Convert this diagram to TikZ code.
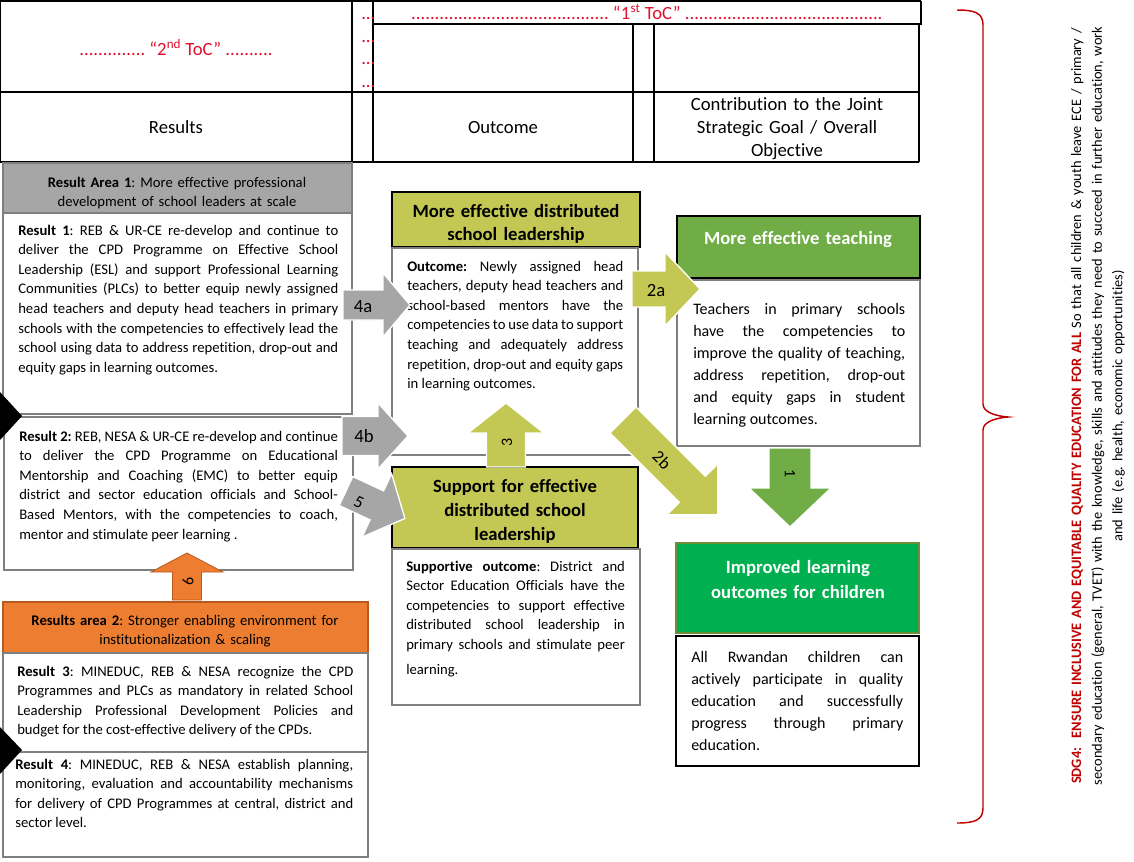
\documentclass[tikz,border=0pt]{standalone}
\usepackage{fontspec}
\setmainfont{Carlito}[Ligatures={TeX,NoCommon}]
\frenchspacing
\tolerance=9999
\emergencystretch=2em
\hyphenpenalty=10000
\definecolor{tocred}{HTML}{E0102A}
\definecolor{sdgred}{HTML}{C00000}
\definecolor{hdrgray}{HTML}{A6A6A6}
\definecolor{bordgray}{HTML}{7F7F7F}
\definecolor{orangeA}{HTML}{ED7D31}
\definecolor{orangeB}{HTML}{B85A1E}
\definecolor{olive}{HTML}{C3C753}
\definecolor{greenT}{HTML}{70AD47}
\definecolor{greenL}{HTML}{00B050}
\definecolor{greenB}{HTML}{6E8E3C}
\newcommand{\fs}[2]{\fontsize{#1}{#2}\selectfont}
% block arrow: #1 name, #2 style, #3 tail, #4 angle, #5 shaft len, #6 shaft half width, #7 head len, #8 head half width
\newcommand{\blkarrow}[8]{%
  \begin{scope}[shift={#3},rotate=#4]
    \path[#2] (0,-#6) -- (#5,-#6) -- (#5,-#8) -- ({#5+#7},0) -- (#5,#8) -- (#5,#6) -- (0,#6) -- cycle;
    \coordinate (#1) at ({#5+#7},0);
  \end{scope}}
\tikzset{
  tbl/.style={draw=black,line width=1.1pt},
  wbox/.style={draw=bordgray,line width=1.5pt,fill=white},
  bbox/.style={draw=black,line width=1.5pt,fill=white},
  grayhdr/.style={draw=bordgray,line width=1.5pt,fill=hdrgray},
  orghdr/.style={draw=orangeB,line width=1.5pt,fill=orangeA},
  olvhdr/.style={draw=black,line width=1.5pt,fill=olive},
  tchhdr/.style={draw=black,line width=1.5pt,fill=greenT},
  lrnhdr/.style={draw=greenB,line width=1.5pt,fill=greenL},
  body/.style={anchor=base west,inner sep=0pt,align=justify,font=\fs{11}{14.7}},
  bodyL/.style={anchor=base west,inner sep=0pt,align=justify,font=\fs{12}{16.6}},
  hdr/.style={anchor=base,inner sep=0pt,align=center},
  grayarr/.style={fill=hdrgray,draw=white,line width=1pt},
  olvarr/.style={fill=olive,draw=white,line width=1pt},
  grnarr/.style={fill=greenT,draw=white,line width=1pt},
  orgarr/.style={fill=orangeA,draw=orangeB,line width=0.6pt},
  arrlbl/.style={inner sep=0pt},
  brace/.style={draw=sdgred,line width=1.1pt},
}
\begin{document}
\begin{tikzpicture}[x=0.75pt,y=-0.75pt]
\useasboundingbox[fill=white] (0,0) rectangle (1134,861);
% ---------- top table ----------
\draw[tbl] (0,1) -- (921,1);
\draw[tbl] (373,24) -- (921,24) -- (921,1);
\draw[tbl] (0,92) -- (919,92);
\draw[tbl] (0,162) -- (919,162);
\draw[tbl] (0,1) -- (0,162);
\draw[tbl] (352,1) -- (352,163);
\draw[tbl] (373,1) -- (373,163);
\draw[tbl] (633,24) -- (633,162);
\draw[tbl] (654,24) -- (654,162);
\draw[tbl] (919,24) -- (919,162);
\node[hdr,font=\fs{14}{17}] (toc2) at (176,55) {\color{tocred}.............. “2\textsuperscript{nd} ToC” ..........};
\node[hdr,font=\fs{14}{17}] (toc1) at (647,19) {\color{tocred}.......................................... “1\textsuperscript{st} ToC” ..........................................};
\foreach \yy/\nm in {19/d1,42/d2,64/d3,87/d4}{
  \node[anchor=base west,inner sep=0pt,font=\fs{14}{17}] (\nm) at (361,\yy) {\color{tocred}...};
}
\node[hdr,font=\fs{14}{17}] (hres) at (176,133) {Results};
\node[hdr,font=\fs{14}{17}] (hout) at (503,133) {Outcome};
\node[hdr,font=\fs{14}{17.25},text width=200pt] (hcon) at (787,110) {Contribution to the Joint\\Strategic Goal / Overall\\Objective};
% ---------- left column ----------
\path[grayhdr] (3,163) rectangle (352,213);
\path[wbox] (3,213) rectangle (352,414);
\path[wbox] (4,417) rectangle (353,570);
\path[orghdr] (3,602) rectangle (368,653);
\path[wbox] (3,653) rectangle (368,752);
\path[wbox] (3,752) rectangle (368,857);
\node[hdr,font=\fs{11}{14.25},text width=260pt] (ra1) at (177,187) {\textbf{Result Area 1}: More effective professional\\development of school leaders at scale};
\node[body,text width=240pt] (r1) at (18,235) {\textbf{Result 1}: REB \& UR-CE re-develop and continue to\linebreak deliver the CPD Programme on Effective School\linebreak Leadership (ESL) and support Professional Learning\linebreak Communities (PLCs) to better equip newly assigned\linebreak head teachers and deputy head teachers in primary\linebreak schools with the competencies to effectively lead the\linebreak school using data to address repetition, drop-out and\linebreak equity gaps in learning outcomes.};
\node[body,text width=239pt] (r2) at (19,441) {\textbf{Result 2:} REB, NESA \& UR-CE re-develop and continue\linebreak to deliver the CPD Programme on Educational\linebreak Mentorship and Coaching (EMC) to better equip\linebreak district and sector education officials and School-\linebreak Based Mentors, with the competencies to coach,\linebreak mentor and stimulate peer learning .};
\node[hdr,font=\fs{11}{14.25},text width=270pt] (ra2) at (185,625) {\textbf{Results area 2}: Stronger enabling environment for\\institutionalization \& scaling};
\node[body,text width=252pt] (r3) at (17,676) {\textbf{Result 3}: MINEDUC, REB \& NESA recognize the CPD\linebreak Programmes and PLCs as mandatory in related School\linebreak Leadership Professional Development Policies and\linebreak budget for the cost-effective delivery of the CPDs.};
\node[body,text width=253.5pt] (r4) at (15,769) {\textbf{Result 4}: MINEDUC, REB \& NESA establish planning,\linebreak monitoring, evaluation and accountability mechanisms\linebreak for delivery of CPD Programmes at central, district and\linebreak sector level.};
\fill[black] (0,392) -- (22,416) -- (0,440) -- cycle;
\fill[black] (0,727) -- (22,750) -- (0,774) -- cycle;
% ---------- middle column ----------
\path[olvhdr] (392,192) rectangle (640,247);
\path[wbox] (392,248) rectangle (638,455);
\path[olvhdr] (392,467) rectangle (638,548);
\path[wbox] (392,549) rectangle (640,705);
\node[hdr,font=\bfseries\fs{14}{17.25},text width=180pt] (h1) at (516,217) {More effective distributed\\school leadership};
\node[body,text width=162pt] (oc) at (407,271) {\textbf{Outcome:} Newly assigned head\linebreak teachers, deputy head teachers and\linebreak school-based mentors have the\linebreak competencies to use data to support\linebreak teaching and adequately address\linebreak repetition, drop-out and equity gaps\linebreak in learning outcomes.};
\node[hdr,font=\bfseries\fs{14}{18},text width=180pt] (h2) at (515,492) {Support for effective\\distributed school\\leadership};
\node[body,text width=164pt] (so) at (406,571) {\textbf{Supportive outcome}: District and\linebreak Sector Education Officials have the\linebreak competencies to support effective\linebreak distributed school leadership in\linebreak primary schools and stimulate peer\vspace{4pt}\linebreak learning.};
% ---------- right column ----------
\path[tchhdr] (677,216) rectangle (920,278);
\path[wbox] (677,280) rectangle (920,446);
\path[lrnhdr] (676,543) rectangle (919,633);
\path[bbox] (676,636) rectangle (919,766);
\node[hdr,font=\bfseries\fs{14}{17.25},text width=180pt,text=white] (h3) at (798,244) {More effective teaching};
\node[bodyL,text width=159pt] (te) at (693,314) {Teachers in primary schools\linebreak have the competencies to\linebreak improve the quality of teaching,\linebreak address repetition, drop-out\linebreak and equity gaps in student\linebreak learning outcomes.};
\node[hdr,font=\bfseries\fs{14}{18.75},text width=180pt,text=white] (h4) at (798,573) {Improved learning\\outcomes for children};
\node[bodyL,text width=159pt] (rw) at (691,662) {All Rwandan children can\linebreak actively participate in quality\linebreak education and successfully\linebreak progress through primary\linebreak education.};
% ---------- block arrows ----------
\blkarrow{a4a}{grayarr}{(343,305)}{0}{40}{15}{27}{32}
\blkarrow{a4b}{grayarr}{(342,436)}{0}{36}{19.5}{30}{33}
\blkarrow{a5}{grayarr}{(346,491)}{-25}{34}{16}{31}{35}
\blkarrow{a2a}{olvarr}{(632,289)}{0}{33}{18}{35}{37}
\blkarrow{a2b}{olvarr}{(623,420)}{-45}{98}{18.5}{36}{36}
\blkarrow{a3}{olvarr}{(506,467)}{90}{34}{19.5}{30}{38}
\blkarrow{a1}{grnarr}{(790,448)}{-90}{40}{21}{39}{41}
\blkarrow{a6}{orgarr}{(187,600)}{90}{28}{14.5}{19}{36}
\node[arrlbl,font=\fs{14}{16}] (l4a) at (363,307) {4a};
\node[arrlbl,font=\fs{14}{16}] (l4b) at (364,436) {4b};
\node[arrlbl,font=\fs{13}{15},rotate=-25] (l5) at (359,502) {5};
\node[arrlbl,font=\fs{14}{16}] (l2a) at (656,291) {2a};
\node[arrlbl,font=\fs{13}{15},rotate=-45] (l2b) at (662,460) {2b};
\node[arrlbl,font=\fs{12}{14},rotate=90] (l3) at (507,442) {3};
\node[arrlbl,font=\fs{12}{14},rotate=-90] (l1) at (790,474) {1};
\node[arrlbl,font=\fs{12}{14},rotate=90] (l6) at (188,581) {6};
% ---------- brace and SDG text ----------
\draw[brace] (957,10) .. controls (975,10) and (983,13) .. (983,25) -- (983,404) .. controls (983,412) and (995,416) .. (1008,417) .. controls (995,418) and (983,422) .. (983,430) -- (983,808) .. controls (983,820) and (975,823) .. (957,823);
\node[hdr,anchor=center,rotate=90,text width=600pt,font=\fs{10.8}{15.4}] (sdg) at (1098,406) {{\color{sdgred}\textbf{SDG4:\ \ ENSURE INCLUSIVE AND EQUITABLE QUALITY EDUCATION FOR ALL}} So that all children \& youth leave ECE / primary /\\secondary education (general, TVET) with the knowledge, skills and attitudes they need to succeed in further education, work\\and life (e.g. health, economic opportunities)};
\end{tikzpicture}
\end{document}
